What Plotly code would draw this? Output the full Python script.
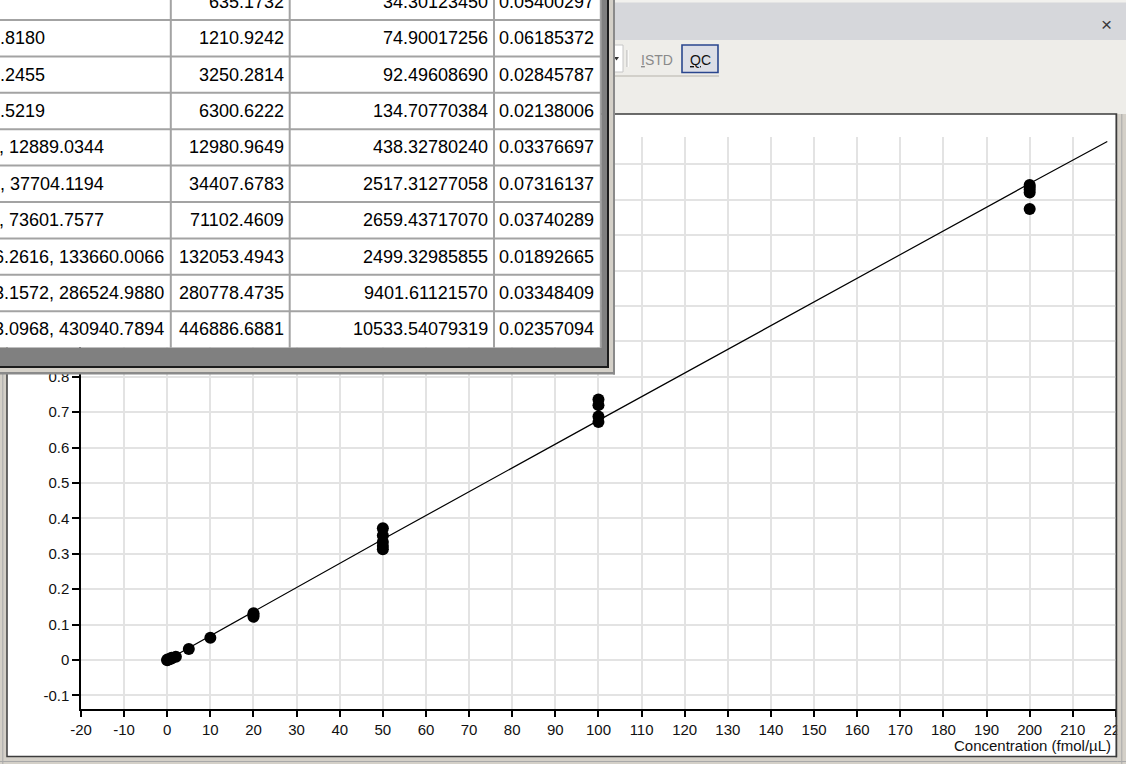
import plotly.graph_objects as go

# ---- calibration data: concentration (fmol/µL) vs. area ratio ----
conc = [0, 0, 0.5, 1, 1, 2,
        5, 10,
        20, 20, 20,
        50, 50, 50, 50, 50,
        100, 100, 100, 100,
        200, 200, 200, 200, 200]
ratio = [-0.001, 0.001, 0.002, 0.004, 0.006, 0.009,
         0.031, 0.063,
         0.122, 0.127, 0.132,
         0.313, 0.322, 0.333, 0.352, 0.372,
         0.672, 0.688, 0.720, 0.736,
         1.274, 1.321, 1.329, 1.336, 1.342]

# regression curve
fit_conc = [0, 50, 100, 150, 200, 218]
fit_ratio = [0.0, 0.341, 0.677, 1.012, 1.346, 1.465]

# axis ticks (labels above 0.8 sit behind the table window)
x_tick_vals = list(range(-20, 221, 10))
x_tick_text = [str(v) for v in x_tick_vals]
y_tick_vals = [round(-0.1 + 0.1 * i, 1) for i in range(16)]
y_tick_text = ["-0.1", "0", "0.1", "0.2", "0.3", "0.4", "0.5", "0.6", "0.7",
               "0.8", "", "", "", "", "", ""]

# replicate statistics table (left window)
tbl_col1 = ["", ".8180", ".2455", ".5219", ", 12889.0344", ", 37704.1194",
            ", 73601.7577", "6.2616, 133660.0066", "3.1572, 286524.9880",
            "3.0968, 430940.7894"]
tbl_mean = ["635.1732", "1210.9242", "3250.2814", "6300.6222", "12980.9649",
            "34407.6783", "71102.4609", "132053.4943", "280778.4735",
            "446886.6881"]
tbl_sd = ["34.30123450", "74.90017256", "92.49608690", "134.70770384",
          "438.32780240", "2517.31277058", "2659.43717070", "2499.32985855",
          "9401.61121570", "10533.54079319"]
tbl_cv = ["0.05400297", "0.06185372", "0.02845787", "0.02138006",
          "0.03376697", "0.07316137", "0.03740289", "0.01892665",
          "0.03348409", "0.02357094"]

# ---- page geometry (pixels) ----
W, H = 1126, 764
L, R, T, B = 81, 10, 137, 55
PW, PH = W - L - R, H - T - B
FONT = "Liberation Sans, Arial, sans-serif"


def X(px):
    return (px - L) / PW


def Y(py):
    return (H - B - py) / PH


shapes = []
annos = []


def rect(x0, y0, x1, y1, fill, line=None, lw=0, layer="below"):
    shapes.append(dict(type="rect", xref="paper", yref="paper",
                       x0=X(x0), x1=X(x1), y0=Y(y1), y1=Y(y0),
                       fillcolor=fill,
                       line=dict(color=line or fill, width=lw),
                       layer=layer))


def seg(x0, y0, x1, y1, color, lw=1, layer="below"):
    shapes.append(dict(type="line", xref="paper", yref="paper",
                       x0=X(x0), x1=X(x1), y0=Y(y0), y1=Y(y1),
                       line=dict(color=color, width=lw), layer=layer))


def text(px, py, s, size=13, color="black", anchor="center", family=FONT):
    annos.append(dict(xref="paper", yref="paper", x=X(px), y=Y(py),
                      text=s, showarrow=False, xanchor=anchor,
                      yanchor="middle", font=dict(size=size, color=color,
                                                  family=family)))


# ---- chart window chrome ----
rect(615, 0, W + 2, 40, "#d6d7db")
rect(615, -2, W + 2, 2.5, "#f2f1ee")
rect(615, 40, W + 2, 114, "#eeede9")
seg(615, 76, 719, 76, "#d2d0ca", 2)
# combo box edge, separator, toolbar buttons
rect(604, 45, 623, 72, "white", "#c6c6c6", 1)
shapes.append(dict(type="path", xref="paper", yref="paper", layer="below",
                   path="M %f,%f L %f,%f L %f,%f Z" % (X(614), Y(57), X(619), Y(57),
                                                       X(616.5), Y(60.5)),
                   fillcolor="#333", line=dict(width=0)))
seg(627, 50, 627, 67, "#b4b4b4", 1)
seg(628.2, 50, 628.2, 67, "white", 1)
text(656.5, 59.5, "<u>I</u>STD", 14, "#8a8a8a")
rect(682, 45, 718, 72.5, "#dcdee6", "#2a468e", 1.6)
text(700, 59.5, "<u>Q</u>C", 14, "#111111")
text(1106.5, 25, "×", 19, "#3a3a3a")

# chart control (white panel with sunken border)
rect(7, 114, 1116.5, 756.5, "white", "#3c3c3c", 1.5)
seg(2.8, 374, 2.8, H + 2, "#a9a9a9", 1)
seg(0, 761.5, W + 2, 761.5, "#a9a9a9", 1)

# right frame drawn over the plot edge
rect(1117.2, 114, W + 2, H + 2, "#d4d0c8", layer="above")
rect(1115.6, 114, 1117.2, 757.2, "#3c3c3c", layer="above")
seg(1121.8, 114, 1121.8, H + 2, "#a9a9a9", 1, layer="above")
seg(1117.2, 761.5, W + 2, 761.5, "#a9a9a9", 1, layer="above")

# axis title
text(1113, 745.5, "Concentration (fmol/µL)", 15, "#111111", anchor="right")

# ---- statistics table window (on top) ----
row_top, row_h = 20.0, 36.4
row_lines = [row_top + row_h * k for k in range(10)]
grid_bottom = row_lines[-1]
col_lines = [170.8, 289.7, 494.0, 600.8]

rect(-6, -6, 601, grid_bottom, "white", layer="above")
for yl in row_lines[:-1]:
    seg(-6, yl, 601, yl, "#a3a3a3", 2, layer="above")
for xl in col_lines:
    seg(xl, -6, xl, grid_bottom, "#a3a3a3", 2, layer="above")
# grid background strip and window frame
rect(-6, grid_bottom, 607, 366, "#808080", layer="above")
rect(601.5, -6, 607, 366, "#808080", layer="above")
rect(-6, 366, 609, 368, "#1c1c1c", layer="above")
rect(607, -6, 609, 368, "#1c1c1c", layer="above")
rect(-6, 368, 613, 372, "#d4d0c8", layer="above")
rect(609, -6, 613, 372, "#d4d0c8", layer="above")
rect(-6, 372, 615, 374.5, "#8a8a8a", layer="above")
rect(613, -6, 615, 374.5, "#8a8a8a", layer="above")

col1_right = [0, 47, 47, 47, 106, 106, 106, 166, 166, 166]
for i in range(10):
    yc = row_top - row_h / 2 + row_h * i
    if tbl_col1[i]:
        text(col1_right[i], yc, tbl_col1[i], 18, anchor="right")
    text(286, yc, tbl_mean[i], 18, anchor="right")
    text(490, yc, tbl_sd[i], 18, anchor="right")
    text(497, yc, tbl_cv[i], 18, anchor="left")

# ---- figure ----
fig = go.Figure()
fig.add_trace(go.Scatter(x=fit_conc, y=fit_ratio, mode="lines",
                         line=dict(color="black", width=1.2),
                         hoverinfo="skip", showlegend=False))
fig.add_trace(go.Scatter(x=conc, y=ratio, mode="markers",
                         marker=dict(color="black", size=12, line=dict(width=0)),
                         showlegend=False))

axis_common = dict(showline=True, linecolor="black", linewidth=1.5,
                   ticks="outside", tickcolor="black", tickwidth=1.5,
                   showgrid=True, gridcolor="#e3e3e3", gridwidth=2,
                   zeroline=False, ticklabeloverflow="allow",
                   automargin=False,
                   tickfont=dict(size=15, family=FONT, color="#111111"))

fig.update_layout(
    width=W, height=H,
    margin=dict(l=L, r=R, t=T, b=B, pad=0, autoexpand=False),
    paper_bgcolor="#d4d0c8",
    plot_bgcolor="white",
    xaxis=dict(range=[-20, 220.02], tickmode="array", tickvals=x_tick_vals,
               ticktext=x_tick_text, ticklen=6, **axis_common),
    yaxis=dict(range=[-0.1385, 1.4775], tickmode="array", tickvals=y_tick_vals,
               ticktext=y_tick_text, ticklen=7, **axis_common),
    shapes=shapes,
    annotations=annos,
    showlegend=False,
)

fig.write_html("out.html", config={"displayModeBar": False})
